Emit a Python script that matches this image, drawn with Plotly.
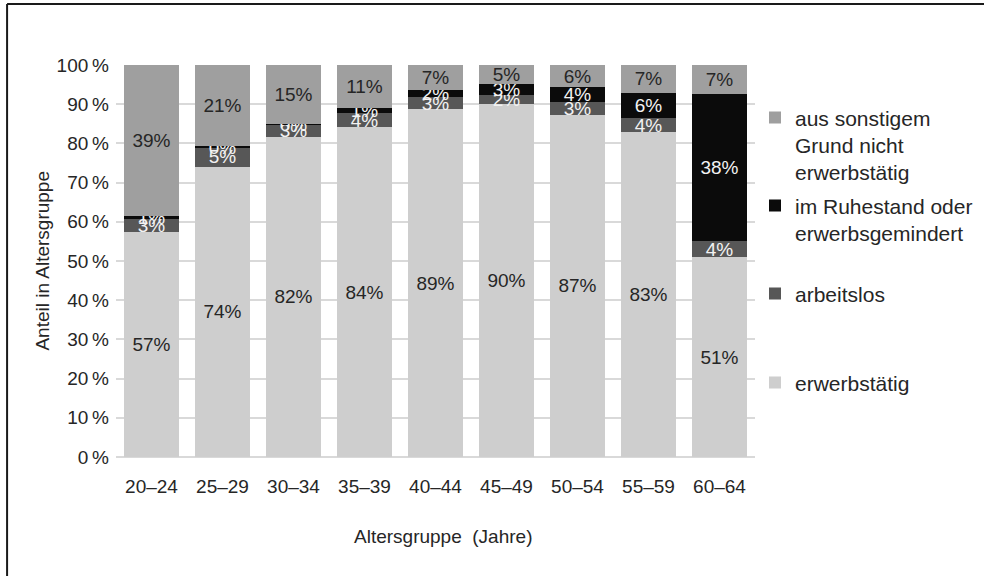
import plotly.graph_objects as go

categories = ["20–24", "25–29", "30–34", "35–39", "40–44", "45–49", "50–54", "55–59", "60–64"]
erwerbstaetig = [57.3, 74.1, 81.7, 84.1, 88.7, 90.0, 87.3, 82.8, 50.9]
arbeitslos = [3.3, 4.9, 3.1, 3.7, 3.2, 2.4, 3.2, 3.7, 4.2]
ruhestand = [0.8, 0.3, 0.2, 1.2, 1.6, 2.8, 3.8, 6.4, 37.6]
sonstig = [38.6, 20.7, 15.0, 11.0, 6.5, 4.8, 5.7, 7.1, 7.3]
y_ticks = [0, 10, 20, 30, 40, 50, 60, 70, 80, 90, 100]

W, H = 984, 576
L, R = 115.5, 755.0
T, B = 65.0, 457.3
PW, PH = R - L, B - T

def px_x(px):
    return (px - L) / PW

def px_y(py):
    return (B - py) / PH

FONT = "Liberation Sans, Arial, Helvetica, sans-serif"
DARK = "#262626"

series = [
    ("erwerbstätig", erwerbstaetig, "#cecece", DARK, "legend4"),
    ("arbeitslos", arbeitslos, "#575757", "#f2f2f2", "legend3"),
    ("im Ruhestand oder<br>erwerbsgemindert", ruhestand, "#0b0b0b", "#f2f2f2", "legend2"),
    ("aus sonstigem<br>Grund nicht<br>erwerbstätig", sonstig, "#9f9f9f", DARK, "legend"),
]

fig = go.Figure()
for name, vals, color, tcolor, lg in series:
    fig.add_trace(go.Bar(
        x=categories, y=vals, name=name,
        marker=dict(color=color, line=dict(width=0)),
        texttemplate="%{y:.0f}%", textposition="inside",
        insidetextanchor="middle", textangle=0,
        insidetextfont=dict(color=tcolor, size=19, family=FONT),
        constraintext="none", cliponaxis=False,
        legend=lg, hoverinfo="skip",
    ))

def leg(py):
    return dict(x=px_x(755), xanchor="left", y=px_y(py), yanchor="middle",
                valign="top", font=dict(size=21, family=FONT, color=DARK),
                bgcolor="rgba(0,0,0,0)", itemclick=False, itemdoubleclick=False)

line_col = "#1a1a1a"
fig.update_layout(
    width=W, height=H,
    margin=dict(l=L, r=W - R, t=T, b=H - B, autoexpand=False),
    barmode="stack", bargap=0.236,
    plot_bgcolor="white", paper_bgcolor="white",
    font=dict(family=FONT, size=19, color=DARK),
    uniformtext=dict(mode="show", minsize=19),
    showlegend=True,
    legend=leg(145), legend2=leg(219.5), legend3=leg(294), legend4=leg(383),
    xaxis=dict(showgrid=False, showline=False, ticks="", ticklabelstandoff=16,
               tickfont=dict(size=19, family=FONT, color=DARK), fixedrange=True),
    yaxis=dict(range=[0, 100], tickvals=y_ticks,
               ticktext=[f"{v}\u2009%" for v in y_ticks],
               showgrid=True, gridcolor="#d9d9d9", gridwidth=1.5,
               zeroline=True, zerolinecolor="#d9d9d9", zerolinewidth=1.5,
               showline=False, ticks="", ticklabelstandoff=6,
               tickfont=dict(size=19, family=FONT, color=DARK), fixedrange=True),
    annotations=[
        dict(text="Anteil in Altersgruppe", xref="paper", yref="paper",
             x=px_x(41), y=0.5, textangle=-90, showarrow=False,
             xanchor="center", yanchor="middle",
             font=dict(size=19, family=FONT, color=DARK)),
        dict(text="Altersgruppe  (Jahre)", xref="paper", yref="paper",
             x=px_x(443), y=px_y(537), showarrow=False,
             xanchor="center", yanchor="middle",
             font=dict(size=19, family=FONT, color=DARK)),
    ],
    shapes=[
        dict(type="line", xref="paper", yref="paper",
             x0=px_x(6.5), x1=px_x(W + 2), y0=px_y(4), y1=px_y(4),
             line=dict(color=line_col, width=2)),
        dict(type="line", xref="paper", yref="paper",
             x0=px_x(6.5), x1=px_x(6.5), y0=px_y(4), y1=px_y(H + 2),
             line=dict(color=line_col, width=2)),
    ],
)

fig.write_html("out.html", config={"displayModeBar": False},
               post_script="document.body.style.margin='0';document.body.style.overflow='hidden';")
